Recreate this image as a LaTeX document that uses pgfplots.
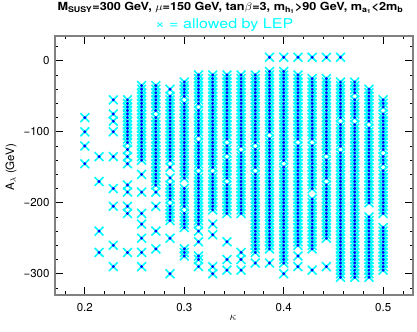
\documentclass[border=0pt]{standalone}
\usepackage{fontspec}
\setmainfont{TeX Gyre Heros}
\usepackage{pgfplots}
\pgfplotsset{compat=1.18}
\definecolor{lepcyan}{RGB}{0,255,255}
\definecolor{lepblue}{RGB}{0,0,255}
\definecolor{framegray}{RGB}{128,128,128}
\pgfdeclareplotmark{lep}{%
  \pgfsetlinewidth{1.6bp}%
  \pgfsetstrokecolor{lepcyan}%
  \pgfpathmoveto{\pgfpoint{-\pgfplotmarksize}{-\pgfplotmarksize}}%
  \pgfpathlineto{\pgfpoint{\pgfplotmarksize}{\pgfplotmarksize}}%
  \pgfpathmoveto{\pgfpoint{-\pgfplotmarksize}{\pgfplotmarksize}}%
  \pgfpathlineto{\pgfpoint{\pgfplotmarksize}{-\pgfplotmarksize}}%
  \pgfusepathqstroke
  \pgfsetfillcolor{lepblue}%
  \pgfpathcircle{\pgfpointorigin}{1.6bp}%
  \pgfusepathqfill
}
\pgfplotsset{col/.style={only marks, mark=lep, mark size=4.4bp}}
\begin{document}
\begin{tikzpicture}
\useasboundingbox (0,0) rectangle (417bp,332bp);
\begin{axis}[
  at={(55bp,37bp)}, anchor=south west,
  scale only axis, width=358bp, height=259bp,
  xmin=0.17, xmax=0.53, ymin=-330, ymax=35,
  xtick={0.2,0.3,0.4,0.5}, xticklabels={0.2,0.3,0.4,0.5},
  minor xtick={0.18,0.22,0.24,0.26,0.28,0.32,0.34,0.36,0.38,0.42,0.44,0.46,0.48,0.52},
  ytick={-300,-200,-100,0}, yticklabels={−300,−200,−100,0},
  minor ytick={-320,-280,-260,-240,-220,-180,-160,-140,-120,-80,-60,-40,-20,20},
  tick align=inside,
  major tick length=8bp, minor tick length=3.5bp,
  axis line style={framegray, line width=1.3bp},
  every tick/.style={black, line width=0.8bp},
  tick label style={font=\fontsize{11.5bp}{13bp}\selectfont},
  xticklabel style={yshift=-5bp},
  yticklabel style={xshift=-2bp},
  xlabel={$\kappa$},
  xlabel style={at={(axis description cs:0.497,-0.089)}, anchor=center, font=\fontsize{12bp}{14bp}\selectfont},
  ylabel={A$_\lambda$ (GeV)},
  ylabel style={at={(axis description cs:-0.123,0.494)}, anchor=center, rotate=0, font=\fontsize{11.5bp}{13bp}\selectfont},
  clip=false,
]
\addplot[col] table[header=false,row sep=\\,x expr=0.2,y index=0]{-80\\-100\\-120\\-145\\};
\addplot[col] table[header=false,row sep=\\,x expr=0.2143,y index=0]{-135\\-170\\-240\\-270\\};
\addplot[col] table[header=false,row sep=\\,x expr=0.2286,y index=0]{-55\\-75\\-85\\-100\\-135\\-180\\-205\\-260\\-290\\};
\addplot[col] table[header=false,row sep=\\,x expr=0.2429,y index=0]{-55\\-60\\-65\\-70\\-75\\-80\\-85\\-90\\-95\\-100\\-105\\-110\\-115\\-125\\-135\\-145\\-175\\-185\\-205\\-215\\-270\\};
\addplot[col] table[header=false,row sep=\\,x expr=0.2571,y index=0]{-35\\-40\\-45\\-50\\-55\\-60\\-65\\-70\\-75\\-80\\-85\\-90\\-95\\-100\\-105\\-110\\-115\\-120\\-125\\-130\\-135\\-140\\-160\\-185\\-215\\-230\\-250\\-270\\-290\\};
\addplot[col] table[header=false,row sep=\\,x expr=0.2714,y index=0]{-35\\-40\\-45\\-50\\-55\\-60\\-65\\-70\\-80\\-85\\-90\\-95\\-100\\-105\\-110\\-115\\-120\\-125\\-130\\-135\\-140\\-145\\-150\\-155\\-160\\-165\\-170\\-175\\-185\\-205\\-240\\-265\\};
\addplot[col] table[header=false,row sep=\\,x expr=0.2857,y index=0]{-40\\-50\\-55\\-60\\-65\\-70\\-75\\-80\\-85\\-90\\-95\\-100\\-105\\-110\\-115\\-120\\-125\\-130\\-135\\-140\\-150\\-165\\-175\\-180\\-185\\-190\\-195\\-205\\-210\\-215\\-220\\-225\\-250\\-300\\};
\addplot[col] table[header=false,row sep=\\,x expr=0.3,y index=0]{-30\\-35\\-40\\-45\\-50\\-60\\-65\\-70\\-75\\-80\\-85\\-90\\-95\\-100\\-105\\-110\\-115\\-120\\-125\\-130\\-135\\-140\\-145\\-150\\-155\\-160\\-165\\-180\\-185\\-190\\-195\\-200\\-205\\-215\\-220\\-225\\-230\\-235\\-265\\-270\\-275\\};
\addplot[col] table[header=false,row sep=\\,x expr=0.3143,y index=0]{-20\\-25\\-30\\-35\\-40\\-45\\-50\\-55\\-60\\-70\\-75\\-80\\-85\\-90\\-95\\-100\\-105\\-115\\-120\\-125\\-130\\-135\\-140\\-145\\-150\\-160\\-165\\-170\\-175\\-180\\-185\\-190\\-195\\-200\\-205\\-210\\-215\\-220\\-225\\-230\\-240\\-255\\-275\\-280\\-290\\};
\addplot[col] table[header=false,row sep=\\,x expr=0.3286,y index=0]{-20\\-25\\-30\\-35\\-40\\-45\\-50\\-55\\-60\\-65\\-70\\-75\\-80\\-85\\-90\\-95\\-100\\-105\\-110\\-115\\-120\\-125\\-130\\-135\\-140\\-145\\-150\\-160\\-165\\-170\\-175\\-180\\-185\\-190\\-195\\-200\\-205\\-210\\-230\\-245\\-290\\-300\\};
\addplot[col] table[header=false,row sep=\\,x expr=0.3429,y index=0]{-20\\-25\\-30\\-35\\-40\\-45\\-50\\-55\\-60\\-65\\-70\\-75\\-80\\-85\\-90\\-95\\-100\\-105\\-110\\-120\\-125\\-130\\-140\\-145\\-150\\-155\\-160\\-165\\-175\\-180\\-185\\-190\\-195\\-200\\-205\\-210\\-215\\-255\\-280\\-295\\};
\addplot[col] table[header=false,row sep=\\,x expr=0.3571,y index=0]{-20\\-25\\-30\\-35\\-40\\-45\\-50\\-55\\-60\\-65\\-70\\-75\\-80\\-85\\-90\\-95\\-100\\-105\\-110\\-115\\-120\\-130\\-135\\-140\\-145\\-150\\-155\\-160\\-165\\-170\\-175\\-180\\-185\\-190\\-195\\-200\\-205\\-210\\-215\\-270\\-280\\-295\\};
\addplot[col] table[header=false,row sep=\\,x expr=0.3714,y index=0]{-20\\-25\\-30\\-35\\-40\\-45\\-50\\-55\\-60\\-65\\-70\\-75\\-80\\-85\\-90\\-95\\-100\\-105\\-110\\-115\\-125\\-130\\-135\\-140\\-145\\-150\\-160\\-165\\-170\\-175\\-180\\-185\\-190\\-195\\-200\\-205\\-210\\-215\\-220\\-225\\-230\\-235\\-240\\-245\\-250\\-255\\-260\\-265\\-270\\-285\\};
\addplot[col] table[header=false,row sep=\\,x expr=0.3857,y index=0]{5\\-15\\-20\\-25\\-30\\-35\\-40\\-45\\-50\\-55\\-60\\-65\\-70\\-75\\-80\\-85\\-90\\-95\\-100\\-110\\-115\\-120\\-125\\-130\\-135\\-140\\-145\\-150\\-155\\-160\\-165\\-170\\-175\\-180\\-185\\-190\\-195\\-200\\-205\\-210\\-215\\-220\\-225\\-230\\-235\\-240\\-245\\-250\\-255\\-260\\-265\\-285\\};
\addplot[col] table[header=false,row sep=\\,x expr=0.4,y index=0]{5\\-15\\-20\\-25\\-30\\-35\\-40\\-45\\-50\\-55\\-60\\-65\\-70\\-75\\-80\\-85\\-90\\-95\\-100\\-105\\-110\\-115\\-120\\-125\\-130\\-135\\-140\\-150\\-155\\-160\\-165\\-170\\-175\\-180\\-185\\-190\\-195\\-200\\-205\\-210\\-215\\-220\\-225\\-230\\-235\\-240\\-245\\-250\\-255\\-260\\-265\\-270\\-275\\-280\\-285\\-300\\};
\addplot[col] table[header=false,row sep=\\,x expr=0.4143,y index=0]{5\\-20\\-25\\-30\\-35\\-40\\-45\\-50\\-55\\-60\\-65\\-70\\-75\\-80\\-85\\-90\\-95\\-100\\-105\\-110\\-120\\-125\\-130\\-135\\-140\\-145\\-150\\-155\\-160\\-165\\-170\\-175\\-180\\-185\\-190\\-195\\-200\\-205\\-210\\-215\\-220\\-225\\-230\\-235\\-240\\-245\\-250\\-255\\-260\\-275\\-290\\};
\addplot[col] table[header=false,row sep=\\,x expr=0.4286,y index=0]{5\\-25\\-30\\-35\\-40\\-45\\-50\\-55\\-60\\-65\\-70\\-75\\-80\\-85\\-90\\-95\\-100\\-105\\-110\\-120\\-125\\-130\\-135\\-140\\-145\\-150\\-155\\-160\\-165\\-170\\-175\\-180\\-195\\-200\\-205\\-210\\-215\\-220\\-225\\-230\\-235\\-240\\-245\\-250\\-255\\-260\\-265\\-295\\};
\addplot[col] table[header=false,row sep=\\,x expr=0.4429,y index=0]{5\\-25\\-30\\-35\\-40\\-45\\-50\\-55\\-60\\-65\\-70\\-75\\-80\\-85\\-90\\-95\\-100\\-105\\-110\\-115\\-120\\-125\\-130\\-140\\-145\\-150\\-155\\-160\\-165\\-175\\-180\\-185\\-190\\-195\\-200\\-205\\-210\\-215\\-220\\-225\\-230\\-235\\-240\\-245\\-250\\-290\\};
\addplot[col] table[header=false,row sep=\\,x expr=0.4571,y index=0]{5\\-30\\-35\\-40\\-45\\-50\\-55\\-60\\-65\\-70\\-75\\-80\\-90\\-95\\-100\\-105\\-110\\-115\\-120\\-130\\-135\\-140\\-145\\-150\\-155\\-160\\-165\\-170\\-175\\-180\\-185\\-190\\-195\\-200\\-205\\-210\\-215\\-220\\-225\\-230\\-235\\-240\\-245\\-250\\-255\\-260\\-265\\-270\\-275\\-280\\-285\\-290\\-295\\-300\\-305\\};
\addplot[col] table[header=false,row sep=\\,x expr=0.4714,y index=0]{-30\\-35\\-40\\-45\\-55\\-60\\-65\\-70\\-75\\-80\\-90\\-95\\-100\\-105\\-110\\-115\\-120\\-125\\-130\\-135\\-140\\-145\\-150\\-155\\-160\\-165\\-170\\-175\\-180\\-185\\-190\\-195\\-200\\-205\\-210\\-215\\-220\\-225\\-230\\-235\\-240\\-245\\-250\\-255\\-260\\-265\\-270\\-275\\-280\\-285\\-290\\-295\\-300\\-305\\};
\addplot[col] table[header=false,row sep=\\,x expr=0.4857,y index=0]{-40\\-45\\-50\\-55\\-60\\-65\\-70\\-75\\-80\\-85\\-95\\-100\\-105\\-110\\-115\\-120\\-125\\-130\\-135\\-140\\-145\\-150\\-155\\-160\\-165\\-170\\-175\\-180\\-185\\-190\\-195\\-200\\-220\\-225\\-230\\-235\\-240\\-245\\-250\\-255\\-260\\-265\\-270\\-275\\-280\\-285\\-290\\-295\\-300\\-305\\};
\addplot[col] table[header=false,row sep=\\,x expr=0.5,y index=0]{-55\\-60\\-65\\-75\\-80\\-85\\-90\\-95\\-100\\-105\\-110\\-115\\-120\\-125\\-135\\-140\\-145\\-155\\-160\\-165\\-170\\-175\\-180\\-185\\-190\\-195\\-200\\-205\\-210\\-215\\-235\\-240\\-245\\-250\\-255\\-260\\-265\\-270\\-275\\-280\\-285\\-290\\-295\\};
\node[font=\bfseries\fontsize{11.2bp}{12bp}\selectfont, anchor=center] at (axis description cs:0.49,1.108) {\scalebox{1.13}[1]{M\textsubscript{SUSY}=300 GeV, $\mu$=150 GeV, tan$\beta$=3, m\textsubscript{h\textsubscript{1}}>90 GeV, m\textsubscript{a\textsubscript{1}}<2m\textsubscript{b}}};
\node[font=\fontsize{13.5bp}{15bp}\selectfont, text=lepcyan, anchor=center] at (axis description cs:0.473,1.044) {\scalebox{1.19}[1]{× = allowed by LEP}};
\end{axis}
\end{tikzpicture}
\end{document}
